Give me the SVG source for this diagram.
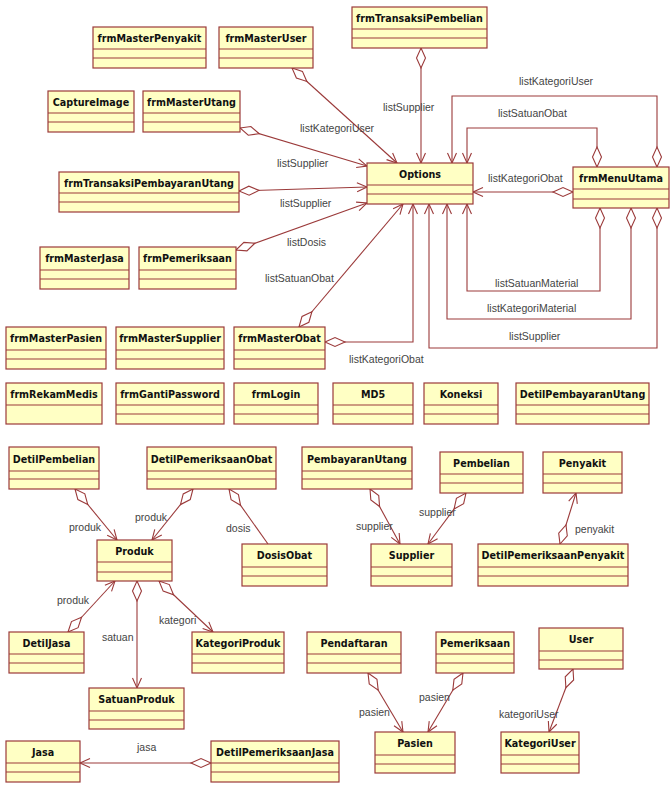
<svg xmlns="http://www.w3.org/2000/svg" width="671" height="798" viewBox="0 0 671 798">
<style>
.b rect{fill:#ffffc4;stroke:#9b3a3a;stroke-width:1.2}
.b line{stroke:#9b3a3a;stroke-width:1.2}
.b text{font-family:"DejaVu Sans",Verdana,sans-serif;font-weight:bold;font-size:9.6px;fill:#111;text-anchor:middle}
.c path{fill:none;stroke:#9b3a3a;stroke-width:1.1}
.d{marker-start:url(#dia);marker-end:url(#arr)}
.dn{marker-start:url(#dia)}
.l text{font-family:"Liberation Sans",Arial,sans-serif;font-size:10.5px;fill:#444}
</style>
<defs>
<marker id="dia" markerUnits="userSpaceOnUse" orient="auto" refX="0" refY="0" markerWidth="24" markerHeight="12" viewBox="-1 -6 24 12" overflow="visible">
<path d="M0,0 L10,-4.5 L20,0 L10,4.5 Z" fill="#fff" stroke="#9b3a3a" stroke-width="1.1"/>
</marker>
<marker id="arr" markerUnits="userSpaceOnUse" orient="auto" refX="0" refY="0" markerWidth="12" markerHeight="12" viewBox="-11 -6 12 12" overflow="visible">
<path d="M-10,-4.5 L0,0 L-10,4.5" fill="none" stroke="#9b3a3a" stroke-width="1.1"/>
</marker>
</defs>
<rect width="671" height="798" fill="#fff"/>
<g class="c" id="connectors">
<path class="d" d="M292,68 L397,163"/>
<path class="d" d="M240,128 L367,166"/>
<path class="d" d="M239,191 L367,187"/>
<path class="d" d="M236,250 L367,203"/>
<path class="d" d="M299,327 L403,204"/>
<path class="d" d="M325,342 L413,342 L413,204"/>
<path class="d" d="M421,48 L421,163"/>
<path class="d" d="M657,167 L657,96 L452,96 L452,163"/>
<path class="d" d="M597,167 L597,128 L467,128 L467,163"/>
<path class="d" d="M573,192 L473,192"/>
<path class="d" d="M600,208 L600,291 L467,291 L467,204"/>
<path class="d" d="M631,208 L631,319 L447,319 L447,204"/>
<path class="d" d="M657,208 L657,348 L429,348 L429,204"/>
<path class="d" d="M75,489 L117,540"/>
<path class="d" d="M193,489 L152,540"/>
<path class="dn" d="M229,489 L268,544"/>
<path class="d" d="M68,632 L115,581"/>
<path class="d" d="M137,581 L137,688"/>
<path class="d" d="M159,581 L213,632"/>
<path class="d" d="M211,763 L80,763"/>
<path class="d" d="M370,489 L400,544"/>
<path class="d" d="M466,493 L428,544"/>
<path class="d" d="M560,544 L576,493"/>
<path class="d" d="M368,673 L403,732"/>
<path class="d" d="M463,673 L428,732"/>
<path class="d" d="M573,669 L549,732"/>
</g>
<g class="l" id="labels">
<text x="383" y="111">listSupplier</text>
<text x="519" y="85">listKategoriUser</text>
<text x="498" y="117">listSatuanObat</text>
<text x="488" y="182">listKategoriObat</text>
<text x="300" y="132">listKategoriUser</text>
<text x="277" y="167">listSupplier</text>
<text x="280" y="207">listSupplier</text>
<text x="287" y="246">listDosis</text>
<text x="265" y="282">listSatuanObat</text>
<text x="349" y="363">listKategoriObat</text>
<text x="495" y="287">listSatuanMaterial</text>
<text x="487" y="312">listKategoriMaterial</text>
<text x="509" y="340">listSupplier</text>
<text x="69" y="531">produk</text>
<text x="135" y="521">produk</text>
<text x="226" y="532">dosis</text>
<text x="57" y="604">produk</text>
<text x="102" y="641">satuan</text>
<text x="159" y="624">kategori</text>
<text x="137" y="751">jasa</text>
<text x="356" y="530">supplier</text>
<text x="419" y="516">supplier</text>
<text x="575" y="533">penyakit</text>
<text x="359" y="716">pasien</text>
<text x="419" y="701">pasien</text>
<text x="499" y="718">kategoriUser</text>
</g>
<g class="b" id="frmMasterPenyakit"><rect x="93" y="27" width="113" height="41"/><line x1="93" y1="49" x2="206" y2="49"/><line x1="93" y1="58" x2="206" y2="58"/><text x="149.5" y="42">frmMasterPenyakit</text></g>
<g class="b" id="frmMasterUser"><rect x="219" y="27" width="94" height="41"/><line x1="219" y1="49" x2="313" y2="49"/><line x1="219" y1="58" x2="313" y2="58"/><text x="266" y="42">frmMasterUser</text></g>
<g class="b" id="CaptureImage"><rect x="48" y="91" width="86" height="41"/><line x1="48" y1="113" x2="134" y2="113"/><line x1="48" y1="122" x2="134" y2="122"/><text x="91" y="106">CaptureImage</text></g>
<g class="b" id="frmMasterUtang"><rect x="143" y="91" width="97" height="41"/><line x1="143" y1="113" x2="240" y2="113"/><line x1="143" y1="122" x2="240" y2="122"/><text x="191.5" y="106">frmMasterUtang</text></g>
<g class="b" id="frmTransaksiPembayaranUtang"><rect x="59" y="172" width="180" height="40"/><line x1="59" y1="193" x2="239" y2="193"/><line x1="59" y1="202" x2="239" y2="202"/><text x="149" y="187">frmTransaksiPembayaranUtang</text></g>
<g class="b" id="frmTransaksiPembelian"><rect x="352" y="7" width="135" height="41"/><line x1="352" y1="29" x2="487" y2="29"/><line x1="352" y1="38" x2="487" y2="38"/><text x="419.5" y="22">frmTransaksiPembelian</text></g>
<g class="b" id="Options"><rect x="367" y="163" width="106" height="41"/><line x1="367" y1="185" x2="473" y2="185"/><line x1="367" y1="194" x2="473" y2="194"/><text x="420" y="178">Options</text></g>
<g class="b" id="frmMenuUtama"><rect x="573" y="167" width="96" height="41"/><line x1="573" y1="189" x2="669" y2="189"/><line x1="573" y1="199" x2="669" y2="199"/><text x="621" y="182">frmMenuUtama</text></g>
<g class="b" id="frmMasterJasa"><rect x="40" y="247" width="89" height="42"/><line x1="40" y1="270" x2="129" y2="270"/><line x1="40" y1="279" x2="129" y2="279"/><text x="84.5" y="262">frmMasterJasa</text></g>
<g class="b" id="frmPemeriksaan"><rect x="139" y="247" width="97" height="42"/><line x1="139" y1="270" x2="236" y2="270"/><line x1="139" y1="279" x2="236" y2="279"/><text x="187.5" y="262">frmPemeriksaan</text></g>
<g class="b" id="frmMasterPasien"><rect x="6" y="327" width="100" height="42"/><line x1="6" y1="350" x2="106" y2="350"/><line x1="6" y1="359" x2="106" y2="359"/><text x="56" y="342">frmMasterPasien</text></g>
<g class="b" id="frmMasterSupplier"><rect x="116" y="327" width="108" height="42"/><line x1="116" y1="350" x2="224" y2="350"/><line x1="116" y1="359" x2="224" y2="359"/><text x="170" y="342">frmMasterSupplier</text></g>
<g class="b" id="frmMasterObat"><rect x="234" y="327" width="91" height="42"/><line x1="234" y1="350" x2="325" y2="350"/><line x1="234" y1="359" x2="325" y2="359"/><text x="279.5" y="342">frmMasterObat</text></g>
<g class="b" id="frmRekamMedis"><rect x="6" y="383" width="96" height="41"/><line x1="6" y1="405" x2="102" y2="405"/><text x="54" y="398">frmRekamMedis</text></g>
<g class="b" id="frmGantiPassword"><rect x="116" y="383" width="108" height="41"/><line x1="116" y1="405" x2="224" y2="405"/><line x1="116" y1="414" x2="224" y2="414"/><text x="170" y="398">frmGantiPassword</text></g>
<g class="b" id="frmLogin"><rect x="234" y="383" width="84" height="41"/><line x1="234" y1="405" x2="318" y2="405"/><line x1="234" y1="414" x2="318" y2="414"/><text x="276" y="398">frmLogin</text></g>
<g class="b" id="MD5"><rect x="333" y="383" width="80" height="41"/><line x1="333" y1="405" x2="413" y2="405"/><line x1="333" y1="414" x2="413" y2="414"/><text x="373" y="398">MD5</text></g>
<g class="b" id="Koneksi"><rect x="424" y="383" width="74" height="41"/><line x1="424" y1="405" x2="498" y2="405"/><line x1="424" y1="414" x2="498" y2="414"/><text x="461" y="398">Koneksi</text></g>
<g class="b" id="DetilPembayaranUtang"><rect x="516" y="383" width="133" height="41"/><line x1="516" y1="405" x2="649" y2="405"/><line x1="516" y1="414" x2="649" y2="414"/><text x="582.5" y="398">DetilPembayaranUtang</text></g>
<g class="b" id="DetilPembelian"><rect x="9" y="447" width="90" height="42"/><line x1="9" y1="471" x2="99" y2="471"/><line x1="9" y1="479" x2="99" y2="479"/><text x="54" y="463">DetilPembelian</text></g>
<g class="b" id="DetilPemeriksaanObat"><rect x="147" y="447" width="129" height="42"/><line x1="147" y1="471" x2="276" y2="471"/><line x1="147" y1="479" x2="276" y2="479"/><text x="211.5" y="463">DetilPemeriksaanObat</text></g>
<g class="b" id="PembayaranUtang"><rect x="302" y="447" width="110" height="42"/><line x1="302" y1="471" x2="412" y2="471"/><line x1="302" y1="479" x2="412" y2="479"/><text x="357" y="463">PembayaranUtang</text></g>
<g class="b" id="Pembelian"><rect x="440" y="452" width="83" height="41"/><line x1="440" y1="474" x2="523" y2="474"/><line x1="440" y1="483" x2="523" y2="483"/><text x="481.5" y="467">Pembelian</text></g>
<g class="b" id="Penyakit"><rect x="543" y="452" width="79" height="41"/><line x1="543" y1="474" x2="622" y2="474"/><line x1="543" y1="483" x2="622" y2="483"/><text x="582.5" y="467">Penyakit</text></g>
<g class="b" id="Produk"><rect x="97" y="540" width="75" height="41"/><line x1="97" y1="562" x2="172" y2="562"/><line x1="97" y1="572" x2="172" y2="572"/><text x="134.5" y="555">Produk</text></g>
<g class="b" id="DosisObat"><rect x="242" y="544" width="85" height="42"/><line x1="242" y1="567" x2="327" y2="567"/><line x1="242" y1="576" x2="327" y2="576"/><text x="284.5" y="559">DosisObat</text></g>
<g class="b" id="Supplier"><rect x="371" y="544" width="81" height="42"/><line x1="371" y1="567" x2="452" y2="567"/><line x1="371" y1="576" x2="452" y2="576"/><text x="411.5" y="559">Supplier</text></g>
<g class="b" id="DetilPemeriksaanPenyakit"><rect x="478" y="544" width="150" height="42"/><line x1="478" y1="567" x2="628" y2="567"/><line x1="478" y1="576" x2="628" y2="576"/><text x="553" y="559">DetilPemeriksaanPenyakit</text></g>
<g class="b" id="DetilJasa"><rect x="9" y="632" width="75" height="41"/><line x1="9" y1="654" x2="84" y2="654"/><line x1="9" y1="663" x2="84" y2="663"/><text x="46.5" y="647">DetilJasa</text></g>
<g class="b" id="KategoriProduk"><rect x="192" y="632" width="92" height="41"/><line x1="192" y1="654" x2="284" y2="654"/><line x1="192" y1="663" x2="284" y2="663"/><text x="238" y="647">KategoriProduk</text></g>
<g class="b" id="Pendaftaran"><rect x="307" y="632" width="94" height="41"/><line x1="307" y1="654" x2="401" y2="654"/><line x1="307" y1="663" x2="401" y2="663"/><text x="354" y="647">Pendaftaran</text></g>
<g class="b" id="Pemeriksaan"><rect x="436" y="632" width="78" height="41"/><line x1="436" y1="654" x2="514" y2="654"/><line x1="436" y1="663" x2="514" y2="663"/><text x="475" y="647">Pemeriksaan</text></g>
<g class="b" id="User"><rect x="539" y="628" width="84" height="41"/><line x1="539" y1="651" x2="623" y2="651"/><line x1="539" y1="660" x2="623" y2="660"/><text x="581" y="643">User</text></g>
<g class="b" id="SatuanProduk"><rect x="89" y="688" width="95" height="41"/><line x1="89" y1="711" x2="184" y2="711"/><line x1="89" y1="720" x2="184" y2="720"/><text x="136.5" y="703">SatuanProduk</text></g>
<g class="b" id="Jasa"><rect x="6" y="741" width="74" height="41"/><line x1="6" y1="763" x2="80" y2="763"/><line x1="6" y1="772" x2="80" y2="772"/><text x="43" y="756">Jasa</text></g>
<g class="b" id="DetilPemeriksaanJasa"><rect x="211" y="741" width="128" height="41"/><line x1="211" y1="763" x2="339" y2="763"/><line x1="211" y1="772" x2="339" y2="772"/><text x="275" y="756">DetilPemeriksaanJasa</text></g>
<g class="b" id="Pasien"><rect x="375" y="732" width="80" height="41"/><line x1="375" y1="755" x2="455" y2="755"/><line x1="375" y1="764" x2="455" y2="764"/><text x="415" y="747">Pasien</text></g>
<g class="b" id="KategoriUser"><rect x="501" y="732" width="78" height="41"/><line x1="501" y1="755" x2="579" y2="755"/><line x1="501" y1="764" x2="579" y2="764"/><text x="540" y="747">KategoriUser</text></g>
</svg>
